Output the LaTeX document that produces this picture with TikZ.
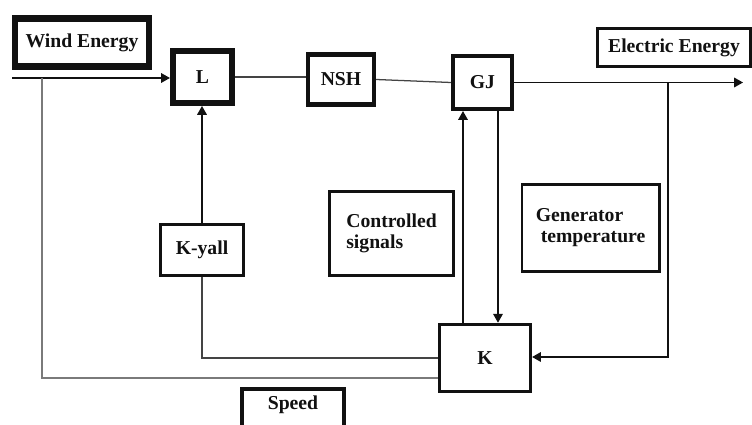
\documentclass[tikz,border=0pt]{standalone}
\usepackage{fontspec}
\setmainfont{Liberation Serif}
\usepackage{xcolor}
\usepackage{tikz}
\usetikzlibrary{arrows.meta,positioning,calc}
\definecolor{ink}{HTML}{111111}
\definecolor{wiregray}{HTML}{444444}
\definecolor{feedgray}{HTML}{7A7A7A}
\tikzset{
  >={Triangle[length=2.2mm,width=2.4mm]},
  block/.style={draw=ink, fill=white, inner sep=1mm, text=ink, font=\bfseries\fontsize{14}{15}\selectfont},
  note/.style={block, align=left},
  flow/.style={->, line width=.9pt, color=ink},
  wire/.style={line width=.9pt, color=wiregray},
  feed/.style={line width=1pt, color=feedgray}
}

\begin{document}
\begin{tikzpicture}[x=0.025cm,y=-0.025cm]
  \useasboundingbox (0,0) rectangle (752,425);
  \clip (0,0) rectangle (752,425);

  \node[block,line width=4.6pt,minimum width=3.36cm,minimum height=1.21cm] (wind) at (82,42.5) {Wind Energy};
  \node[block,line width=4.2pt,minimum width=1.48cm,minimum height=1.3cm] (L) at (202.5,77) {L};
  \node[block,line width=3.2pt,minimum width=1.64cm,minimum height=1.26cm] (nsh) at (341,79.5) {NSH};
  \node[block,line width=2.8pt,minimum width=1.48cm,minimum height=1.33cm] (gj) at (482.5,82.5) {GJ};
  \node[block,line width=1.9pt,minimum width=3.83cm,minimum height=.96cm] (elec) at (674,47.5) {Electric Energy};

  \node[block,line width=2.4pt,minimum width=2.07cm,minimum height=1.27cm] (kyall) at (202,250) {K-yall};
  \node[note,line width=2.1pt,minimum width=3.1cm,minimum height=2.1cm] (ctrl) at (391.5,233.5) {Controlled\\signals};
  \node[note,line width=2.1pt,minimum width=3.43cm,minimum height=2.17cm] (gtemp) at (590.6,228) {Generator\\\hspace*{.25em}temperature};
  \node[block,line width=2.1pt,minimum width=2.28cm,minimum height=1.69cm] (K) at (485,358) {K};
  \node[block,line width=2.5pt,minimum width=2.56cm,anchor=north,inner ysep=1.8mm,text depth=1.4cm] (speed) at (293,387) {Speed};

  % wind in, and its tap down to K
  \coordinate (src) at (12,78);
  \coordinate (tap0) at (42,78);
  \coordinate (feedend) at (42,378);
  \draw[flow] (src) -- (src -| L.west);
  \draw[feed] (tap0) -- (feedend) -- (feedend -| K.west);

  % main chain
  \draw[wire] (L.east) -- (L.east -| nsh.west);
  \draw[wire] (nsh.east) -- (gj.west);
  \coordinate (sink) at (743,82.5);
  \draw[flow] (gj.east) -- (sink);

  % electric energy back to K
  \coordinate (tap1) at (668,82.5);
  \coordinate (tap2) at (668,357);
  \draw[flow] (tap1) -- (tap2) -- (tap2 -| K.east);

  % control loops
  \draw[flow] (kyall.north) -- (kyall.north |- L.south);
  \draw[wire] (K.west) -| (kyall.south);
  \draw[flow] ([xshift=-.55cm]K.north) -- ([xshift=-.55cm]K.north |- gj.south);
  \draw[flow] ([xshift=.325cm]K.north |- gj.south) -- ([xshift=.325cm]K.north);
\end{tikzpicture}
\end{document}
